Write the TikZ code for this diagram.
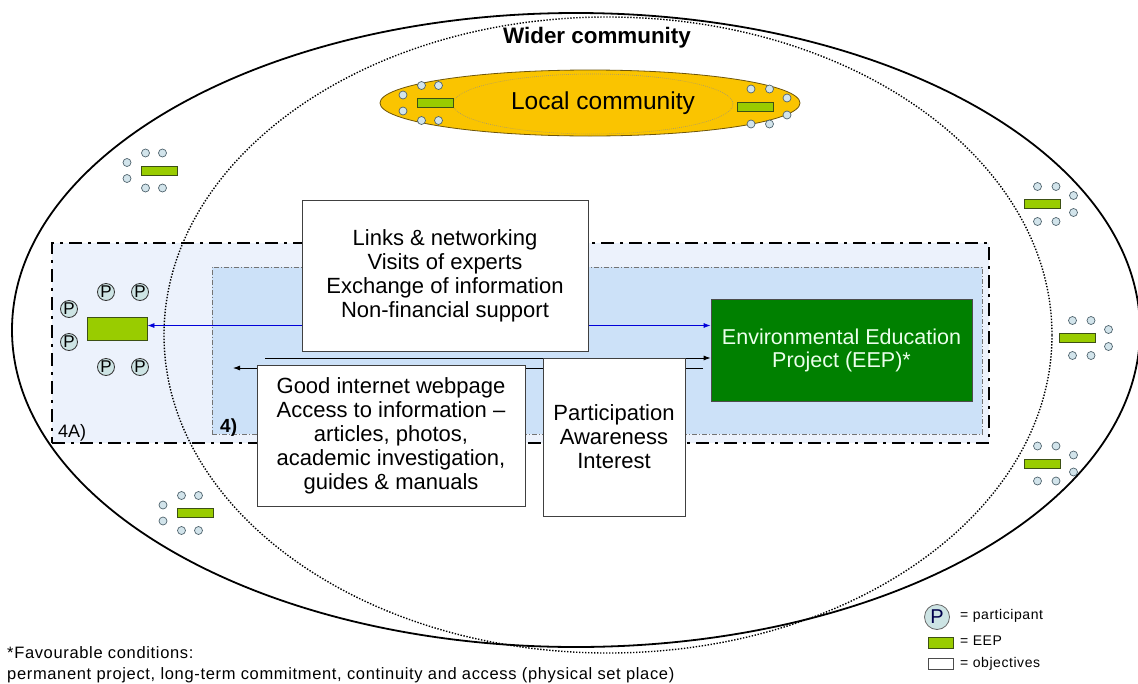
\documentclass[tikz,border=0pt]{standalone}
\usepackage{fontspec}
\setmainfont{Liberation Sans}
\usetikzlibrary{arrows.meta}
\definecolor{paleblue}{RGB}{236,242,252}
\definecolor{midblue}{RGB}{204,225,248}
\definecolor{eepgreen}{RGB}{153,204,0}
\definecolor{eepborder}{RGB}{60,80,20}
\definecolor{darkgreen}{RGB}{0,128,0}
\definecolor{gold}{RGB}{250,196,0}
\definecolor{goldborder}{RGB}{110,85,10}
\definecolor{pfill}{RGB}{205,228,228}
\definecolor{dotfill}{RGB}{210,228,235}
\definecolor{dotborder}{RGB}{80,100,110}
\begin{document}
\begin{tikzpicture}[x=1pt,y=-1pt,
  obj/.style={draw=black!75, fill=white, line width=0.8pt, align=center, inner sep=0pt, font=\fontsize{22}{24}\selectfont},
  pnode/.style={circle, draw=black!80, fill=pfill, line width=0.8pt, minimum size=17pt, inner sep=0pt, font=\fontsize{17}{17}\selectfont},
  eepsmall/.style={draw=eepborder, fill=eepgreen, line width=0.8pt, inner sep=0pt},
  dotc/.style={draw=dotborder, fill=dotfill, line width=0.7pt},
  lbl/.style={inner sep=0pt},
  smalltxt/.style={lbl, font=\fontsize{14}{14}\selectfont\addfontfeatures{LetterSpace=4}},
  bluearr/.style={draw=blue!85!black, line width=0.8pt, {Latex[length=7pt,width=5pt]}-{Latex[length=7pt,width=5pt]}},
  blackarr/.style={draw=black, line width=0.8pt, -{Latex[length=7pt,width=5pt]}},
  grpA/.pic={
    \node[eepsmall, minimum width=36pt, minimum height=9pt] (-r) at (0,0) {};
    \foreach \a/\b in {-32/-8, -32/8, -13.5/-17.5, 3.5/-17.5, -13.5/17.5, 3.5/17.5}
      \draw[dotc] (\a,\b) circle[radius=4pt];
  },
  grpB/.pic={
    \node[eepsmall, minimum width=36pt, minimum height=9pt] (-r) at (0,0) {};
    \foreach \a/\b in {31.5/-8.5, 31.5/8.5, -4.5/-17.5, 14/-17.5, -4.5/17.5, 14/17.5}
      \draw[dotc] (\a,\b) circle[radius=4pt];
  }
]
\useasboundingbox (0,0) rectangle (1138,683);
\fill[white] (0,0) rectangle (1138,683);

% zones
\node[draw=black, fill=paleblue, line width=2.8pt, dash pattern=on 13pt off 6pt on 3pt off 6pt,
      minimum width=937pt, minimum height=200pt, inner sep=0pt] (zoneA) at (520.5,343) {};
\node[draw=black!55, fill=midblue, line width=0.6pt, dash pattern=on 5pt off 2pt on 1pt off 2pt,
      minimum width=770pt, minimum height=167pt, inner sep=0pt] (zoneB) at (597,350.5) {};

% community ellipses
\draw[line width=1.8pt] (576,330) ellipse [x radius=564pt, y radius=317pt];
\draw[line width=1.4pt, dash pattern=on 1.4pt off 1.6pt] (608,335) ellipse [x radius=444pt, y radius=318pt];
\node[lbl, font=\bfseries\fontsize{22.4}{22}\selectfont] (wider) at (597,38) {Wider community};

\draw[fill=gold, draw=goldborder, line width=0.8pt] (590,103) ellipse [x radius=210pt, y radius=33pt];
\draw[draw=goldborder!60, line width=0.6pt, dash pattern=on 0.8pt off 1.2pt] (593,104) ellipse [x radius=140pt, y radius=30pt];
\node[lbl, font=\fontsize{24.5}{24}\selectfont] (local) at (603,103) {Local community};

% small groups
\pic (g1) at (159,170.5) {grpA};
\pic (g2) at (195,513) {grpA};
\pic (g3) at (435,103) {grpA};
\pic (g4) at (1042,204) {grpB};
\pic (g5) at (1077,338) {grpB};
\pic (g6) at (1042,463.5) {grpB};
\pic (g7) at (755.5,106.5) {grpB};

% zone labels
\node[lbl, anchor=base west, font=\fontsize{18}{18}\selectfont] (lblA) at (58,437) {4A)};
\node[lbl, anchor=base west, font=\bfseries\fontsize{19}{19}\selectfont] (lblB) at (220,432) {4)};

% participants and EEP in 4A
\node[eepsmall, minimum width=60pt, minimum height=23pt] (eepL) at (117,328.5) {};
\node[pnode] (p1) at (106,292) {P};
\node[pnode] (p2) at (140,292) {P};
\node[pnode] (p3) at (69,309) {P};
\node[pnode] (p4) at (69,342) {P};
\node[pnode] (p5) at (106,367) {P};
\node[pnode] (p6) at (140,367) {P};

% main EEP
\node[fill=darkgreen, draw=black!70, line width=0.8pt, minimum width=261pt, minimum height=102pt,
      inner sep=0pt, text=white!92!green, align=center, font=\fontsize{21.5}{23}\selectfont]
      (eep) at (841.5,350) {Environmental Education\\Project (EEP)*};

% connectors
\coordinate (bl) at ([yshift=3pt]eepL.east);
\draw[bluearr] (bl) -- (bl -| eep.west);
\coordinate (u0) at (265,358);
\draw[blackarr] (u0) -- (u0 -| eep.west);
\coordinate (l0) at (703,368);
\coordinate (l1) at (233,368);
\draw[blackarr] (l0) -- (l1);

% objective boxes
\node[obj, minimum width=286pt, minimum height=151pt] (box1) at (445,275.5)
  {Links \& networking\\Visits of experts\\Exchange of information\\Non-financial support};
\node[obj, minimum width=268pt, minimum height=141pt] (box2) at (391,436)
  {Good internet webpage\\Access to information --\\articles, photos,\\academic investigation,\\guides \& manuals};
\node[obj, minimum width=142pt, minimum height=158pt] (box3) at (614,437)
  {Participation\\Awareness\\Interest};

% legend
\node[pnode, minimum size=25pt, draw=black!60, text=black!70!blue, font=\fontsize{20}{20}\selectfont] (legP) at (937,617) {P};
\node[smalltxt, anchor=west] (legPt) at (960,616) {= participant};
\node[eepsmall, minimum width=25pt, minimum height=11pt] (legE) at (940.5,642.5) {};
\node[smalltxt, anchor=west] (legEt) at (960,641) {= EEP};
\node[draw=black!70, fill=white, line width=0.8pt, inner sep=0pt, minimum width=25pt, minimum height=11pt] (legO) at (940.5,664) {};
\node[smalltxt, anchor=west] (legOt) at (960,664) {= objectives};

% footnote
\node[lbl, anchor=base west, font=\fontsize{16.5}{16.5}\selectfont\addfontfeatures{LetterSpace=4}] (fn1) at (7,658) {*Favourable conditions:};
\node[lbl, anchor=base west, font=\fontsize{16.5}{16.5}\selectfont\addfontfeatures{LetterSpace=4}] (fn2) at (7,679) {permanent project, long-term commitment, continuity and access (physical set place)};
\end{tikzpicture}
\end{document}
